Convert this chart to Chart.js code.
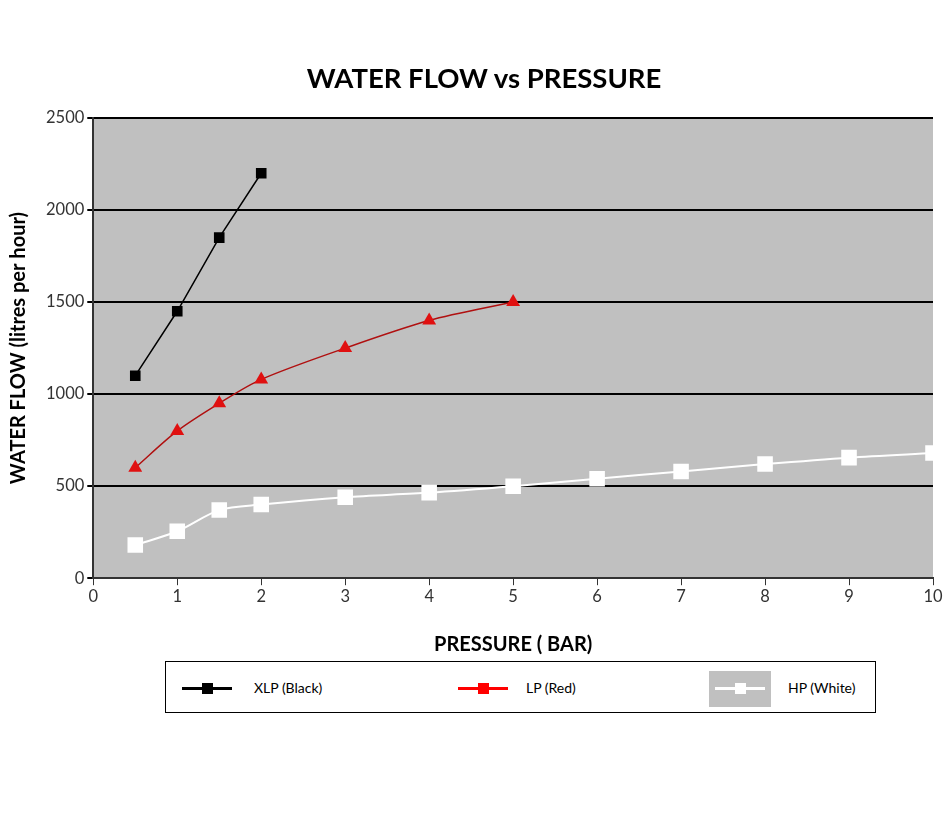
<!DOCTYPE html>
<html><head><meta charset="utf-8">
<script src="https://cdn.jsdelivr.net/npm/chart.js@4"></script>
<style>
html,body{margin:0;padding:0;background:#fff;}
#wrap{position:relative;width:948px;height:831px;}
canvas{position:absolute;left:0;top:0;}
#title{position:absolute;left:184px;width:600px;top:61px;text-align:center;font-family:Lato,"Open Sans",sans-serif;font-weight:bold;font-size:27.5px;color:#000;line-height:34px;}
#legend{position:absolute;left:165px;top:661px;width:709px;height:50px;border:1px solid #000;background:#fff;font-family:Lato,"Open Sans",sans-serif;font-size:14px;color:#000;}
.item{position:absolute;top:0;height:50px;}
.ln{position:absolute;height:3px;width:50px;top:25px;}
.mk{position:absolute;width:11px;height:11px;top:21px;left:20px;}
.tx{position:absolute;top:17px;white-space:nowrap;}
</style></head>
<body><div id="wrap"><canvas id="c" width="948" height="831"></canvas>
<div id="title">WATER FLOW vs PRESSURE</div>
<div id="legend">
 <div class="item" style="left:16px"><div class="ln" style="background:#000"></div><div class="mk" style="background:#000"></div><div class="tx" style="left:72px">XLP (Black)</div></div>
 <div class="item" style="left:292px"><div class="ln" style="background:#ff0000"></div><div class="mk" style="background:#ff0000"></div><div class="tx" style="left:68px">LP (Red)</div></div>
 <div class="item" style="left:543px"><div style="position:absolute;left:0;top:9px;width:62px;height:36px;background:#c0c0c0"></div><div class="ln" style="background:#fff;left:6px;width:50px"></div><div class="mk" style="background:#fff;left:26px"></div><div class="tx" style="left:79px">HP (White)</div></div>
</div></div>
<script>
const xlpPressure = [0.5, 1, 1.5, 2];
const xlpFlow = [1100, 1450, 1850, 2200];
const lpPressure = [0.5, 1, 1.5, 2, 3, 4, 5];
const lpFlow = [600, 800, 950, 1080, 1250, 1400, 1500];
const hpPressure = [0.5, 1, 1.5, 2, 3, 4, 5, 6, 7, 8, 9, 10];
const hpFlow = [180, 255, 370, 400, 440, 465, 500, 540, 580, 620, 655, 680];
const xTicks = [0,1,2,3,4,5,6,7,8,9,10];
const yTicks = [0,500,1000,1500,2000,2500];

const toXY = (xs, ys) => xs.map((x,i)=>({x:x,y:ys[i]}));
const FONT = 'Lato, "Open Sans", sans-serif';

const bgPlugin = {
  id:'bg',
  beforeDraw(chart){
    const a = chart.chartArea, ctx = chart.ctx;
    ctx.save(); ctx.fillStyle='#c0c0c0';
    ctx.fillRect(a.left, a.top, a.right-a.left, a.bottom-a.top);
    ctx.restore();
  }
};

new Chart(document.getElementById('c'), {
  type:'line',
  data:{datasets:[
    {label:'XLP (Black)', data:toXY(xlpPressure,xlpFlow), borderColor:'#000', backgroundColor:'#000', borderWidth:1.5,
     pointStyle:'rect', pointRadius:7.5, pointBorderWidth:0, tension:0},
    {label:'LP (Red)', data:toXY(lpPressure,lpFlow), borderColor:'#b01010', backgroundColor:'#e01010', borderWidth:1.5,
     pointStyle:'triangle', pointRadius:8, pointBorderWidth:0, tension:0.3},
    {label:'HP (White)', data:toXY(hpPressure,hpFlow), borderColor:'#fff', backgroundColor:'#fff', borderWidth:2,
     pointStyle:'rect', pointRadius:11, pointBorderWidth:0, tension:0.3}
  ]},
  options:{
    responsive:false, animation:false,
    layout:{padding:{left:3,right:15,top:118,bottom:170}},
    plugins:{
      legend:{display:false}, tooltip:{enabled:false}, title:{display:false}
    },
    scales:{
      x:{type:'linear', min:0, max:10,
        afterBuildTicks(s){ s.ticks = xTicks.map(v=>({value:v})); },
        grid:{display:true, drawOnChartArea:false, drawTicks:true, tickLength:7, color:'#333', lineWidth:1},
        border:{display:true, color:'#333', width:2},
        ticks:{color:'#333', font:{family:FONT,size:16.5}, padding:2, callback:v=>String(v)},
        title:{display:true, text:'PRESSURE ( BAR)', color:'#000', font:{family:FONT,size:20,weight:'bold'}, padding:{top:24}}
      },
      y:{min:0, max:2500,
        afterBuildTicks(s){ s.ticks = yTicks.map(v=>({value:v})); },
        grid:{display:true, drawOnChartArea:true, drawTicks:true, tickLength:6, color:'#000', lineWidth:2},
        border:{display:true, color:'#333', width:2},
        ticks:{color:'#333', font:{family:FONT,size:16.5}, padding:3, callback:v=>String(v)},
        title:{display:true, text:'WATER FLOW (litres per hour)', color:'#000', font:{family:FONT,size:20,weight:'bold'}, padding:{bottom:12}}
      }
    }
  },
  plugins:[bgPlugin]
});
</script></body></html>
